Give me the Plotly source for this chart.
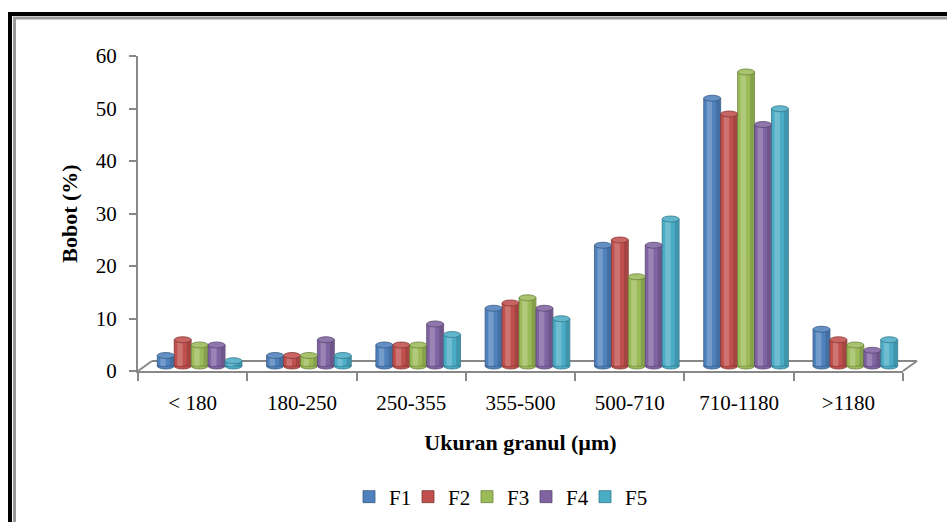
import plotly.graph_objects as go

# Granule size distribution of five formulas
categories = ["< 180", "180-250", "250-355", "355-500", "500-710", "710-1180", ">1180"]
series_names = ["F1", "F2", "F3", "F4", "F5"]
F1 = [2, 2, 4, 11, 23, 51, 7]
F2 = [5, 2, 4, 12, 24, 48, 5]
F3 = [4, 2, 4, 13, 17, 56, 4]
F4 = [4, 5, 8, 11, 23, 46, 3]
F5 = [1, 2, 6, 9, 28, 49, 5]
y_ticks = [0, 10, 20, 30, 40, 50, 60]

series_values = [F1, F2, F3, F4, F5]
colors = ["#4F81BD", "#C0504D", "#9BBB59", "#8064A2", "#4BACC6"]

W, H = 947, 522
L, R, T, B = 138, 44, 56, 151
pw, ph = W - L - R, H - T - B
y_max = 60

def px(x):
    return (x - L) / pw

def py(y):
    return (H - B - y) / ph

def mix(hexcol, other, t):
    a = [int(hexcol[i:i + 2], 16) for i in (1, 3, 5)]
    b = [int(other[i:i + 2], 16) for i in (1, 3, 5)]
    return "#" + "".join(f"{round(x + (y - x) * t):02x}" for x, y in zip(a, b))

cat_px = pw / len(categories)
bar_w = 0.155                     # bar width in category units
depth_shift = 7 / cat_px          # bars stand on the middle of the floor
floor_lift = 5 * y_max / ph       # floor depth in value units
cap_h = 6 * y_max / ph            # height of the elliptic caps

fig = go.Figure()
shapes = []

# empty trace so the value axis (front wall) gets drawn
fig.add_trace(go.Scatter(x=categories, y=[None] * len(categories),
                         mode="markers", showlegend=False, hoverinfo="skip"))

for i, (name, vals, col) in enumerate(zip(series_names, series_values, colors)):
    start = depth_shift + (i - 2.5) * bar_w
    dark = mix(col, "#000000", 0.3)
    fig.add_trace(go.Bar(
        x=categories, y=vals, name=name, yaxis="y2",
        offset=start, width=bar_w,
        marker=dict(color=col, line=dict(color=dark, width=0.8)),
        hoverinfo="x+y+name",
    ))
    # cylinder shading: soft highlight and a darker right edge
    fig.add_trace(go.Bar(
        x=categories, y=vals, yaxis="y2", showlegend=False, hoverinfo="skip",
        offset=start + 0.18 * bar_w, width=0.32 * bar_w,
        marker=dict(color=mix(col, "#ffffff", 0.35), line=dict(width=0)),
        opacity=0.6,
    ))
    fig.add_trace(go.Bar(
        x=categories, y=vals, yaxis="y2", showlegend=False, hoverinfo="skip",
        offset=start + 0.74 * bar_w, width=0.22 * bar_w,
        marker=dict(color=dark, line=dict(width=0)),
        opacity=0.45,
    ))
    for k, v in enumerate(vals):
        x0 = k + start
        shapes.append(dict(type="circle", xref="x", yref="y2",
                           x0=x0, x1=x0 + bar_w, y0=v - cap_h / 2, y1=v + cap_h / 2,
                           fillcolor=mix(col, "#ffffff", 0.12),
                           line=dict(color=dark, width=0.8), layer="above"))
        shapes.append(dict(type="circle", xref="x", yref="y2",
                           x0=x0, x1=x0 + bar_w, y0=-cap_h / 2, y1=cap_h / 2,
                           fillcolor=col, line=dict(color=dark, width=0.8),
                           layer="below"))

# blank slot at the end of the legend row so the last label has room
fig.add_trace(go.Scatter(x=[categories[0]], y=[None], name=" ", mode="markers",
                         marker=dict(color="rgba(0,0,0,0)", size=1),
                         hoverinfo="skip"))

axis_gray = "#888888"
# floor of the chart
floor = [((L, H - B), (L + 14, H - B - 10)),
         ((L + 14, H - B - 10), (W - R + 14, H - B - 10)),
         ((W - R, H - B), (W - R + 14, H - B - 10))]
for (xa, ya), (xb, yb) in floor:
    shapes.append(dict(type="line", xref="paper", yref="paper",
                       x0=px(xa), y0=py(ya), x1=px(xb), y1=py(yb),
                       line=dict(color=axis_gray, width=2), layer="below"))

# chart frame
shapes.append(dict(type="rect", xref="paper", yref="paper",
                   x0=px(10), y0=py(14), x1=px(W + 30), y1=py(H + 30),
                   line=dict(color="#000000", width=4)))
shapes.append(dict(type="rect", xref="paper", yref="paper",
                   x0=px(14.5), y0=py(18), x1=px(W + 30), y1=py(H + 30),
                   line=dict(color="#9a9a9a", width=3)))

serif = "Liberation Serif, Times New Roman, serif"
fig.update_layout(
    width=W, height=H,
    margin=dict(l=L, r=R, t=T, b=B, autoexpand=False),
    paper_bgcolor="white", plot_bgcolor="rgba(0,0,0,0)",
    barmode="overlay",
    font=dict(family=serif, size=21, color="#000000"),
    shapes=shapes,
    showlegend=True,
    legend=dict(orientation="h", x=px(349), y=py(497), xanchor="left",
                yanchor="middle", font=dict(size=21), traceorder="normal",
                entrywidth=14, entrywidthmode="pixels",
                bgcolor="rgba(0,0,0,0)"),
    xaxis=dict(
        type="category", categoryorder="array", categoryarray=categories,
        range=[-0.5, len(categories) - 0.5], automargin=False,
        showline=True, linecolor=axis_gray, linewidth=2,
        ticks="outside", tickson="boundaries", ticklen=8,
        tickcolor=axis_gray, tickwidth=2,
        ticklabelstandoff=12,
        showgrid=False, zeroline=False,
        title=dict(text="<b>Ukuran granul (µm)</b>", font=dict(size=22), standoff=20),
    ),
    yaxis=dict(
        range=[0, y_max], tickvals=y_ticks, automargin=False,
        showline=True, linecolor=axis_gray, linewidth=2,
        ticks="outside", ticklen=7, tickcolor=axis_gray, tickwidth=2,
        ticklabelstandoff=8,
        showgrid=False, zeroline=False,
        title=dict(text="<b>Bobot (%)</b>", font=dict(size=22), standoff=12),
    ),
    yaxis2=dict(range=[-floor_lift, y_max - floor_lift], overlaying="y",
                visible=False),
)

fig.write_html("out.html")
